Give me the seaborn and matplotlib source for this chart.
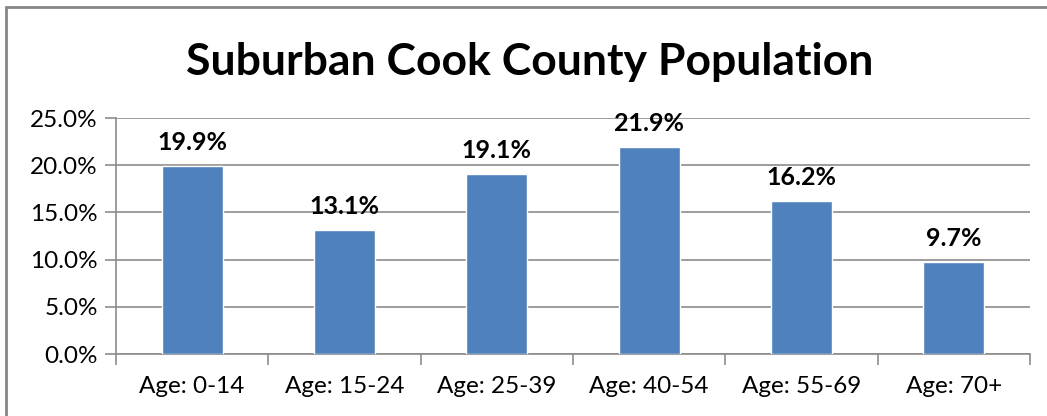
import matplotlib
matplotlib.use("Agg")
import matplotlib.pyplot as plt
import seaborn as sns
import pandas as pd
from matplotlib.lines import Line2D
from matplotlib.ticker import FuncFormatter, MultipleLocator

categories = ["Age: 0-14", "Age: 15-24", "Age: 25-39", "Age: 40-54", "Age: 55-69", "Age: 70+"]
values = [19.9, 13.1, 19.1, 21.9, 16.2, 9.7]
title = "Suburban Cook County Population"

sns.set_theme(style="white")
plt.rcParams['font.family'] = ['Lato', 'DejaVu Sans']

df = pd.DataFrame({"cat": categories, "val": values})

fig = plt.figure(figsize=(10.47, 4.16), dpi=100)
ax = fig.add_axes([0.1108, 0.149, 0.873, 0.567])
sns.barplot(data=df, x="cat", y="val", color="#4F81BD", width=0.4, ax=ax, zorder=3, saturation=1)

ax.set_ylim(0, 25)
ax.set_xlim(-0.5, len(categories) - 0.5)
ax.yaxis.set_major_locator(MultipleLocator(5))
ax.yaxis.set_major_formatter(FuncFormatter(lambda v, p: f"{v:.1f}%"))
ax.grid(axis="y", color="#8C8C8C", linewidth=1.2, zorder=0)
ax.set_axisbelow(True)
for s in ["top", "right"]:
    ax.spines[s].set_visible(False)
for s in ["left", "bottom"]:
    ax.spines[s].set_color("#8C8C8C")
    ax.spines[s].set_linewidth(1.2)
ax.set_xlabel("")
ax.set_ylabel("")
ax.tick_params(axis="y", left=True, length=8, width=1.2, color="#8C8C8C", labelsize=17.5, pad=5, labelcolor="black")
ax.set_xticks([i - 0.5 for i in range(len(categories) + 1)], minor=True)
ax.tick_params(axis="x", which="major", bottom=False, labelsize=17.5, pad=10, labelcolor="black")
ax.tick_params(axis="x", which="minor", bottom=True, length=8, width=1.2, color="#8C8C8C")

for i, v in enumerate(values):
    ax.text(i, v + 1.3, f"{v:.1f}%", ha="center", va="bottom", fontsize=18, fontweight="bold", color="black")

fig.text(0.506, 0.852, title, ha="center", va="center", fontsize=32, fontweight="bold", color="black")

fig.add_artist(Line2D([0.0062, 0.0062], [0.0, 0.984], transform=fig.transFigure, color="#868686", linewidth=2))
fig.add_artist(Line2D([0.0062, 1.0], [0.984, 0.984], transform=fig.transFigure, color="#868686", linewidth=2))

fig.savefig("out.png", dpi=100)
